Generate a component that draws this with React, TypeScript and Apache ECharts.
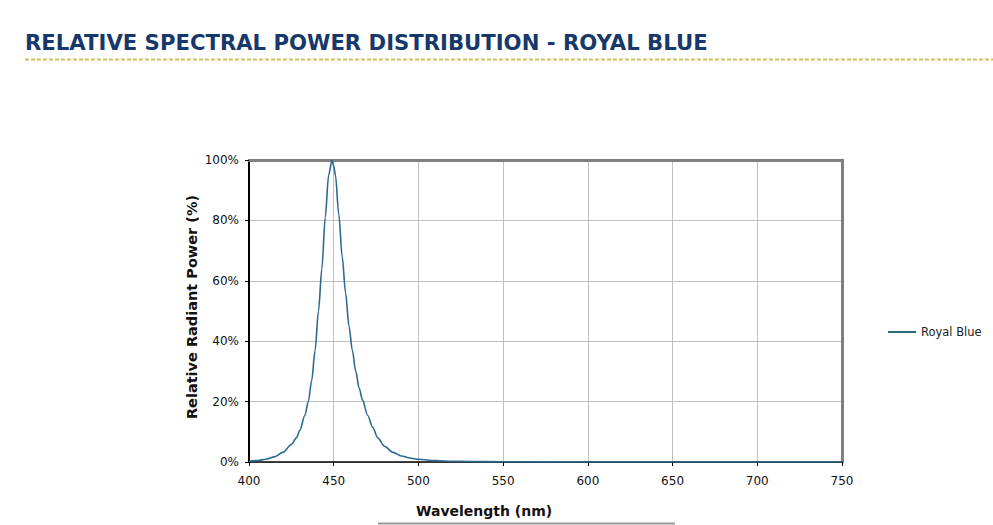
import React, { useEffect, useRef } from "react";
import * as echarts from "echarts";

const titleText = "RELATIVE SPECTRAL POWER DISTRIBUTION - ROYAL BLUE";
const xAxisTitle = "Wavelength (nm)";
const yAxisTitle = "Relative Radiant Power (%)";
const seriesName = "Royal Blue";

const wavelengths = [
  400, 405, 410, 415, 420, 425, 428, 430, 433, 435, 437, 439, 441, 443, 445, 447, 449, 450,
  451, 453, 455, 457, 459, 461, 463, 465, 467, 470, 473, 476, 480, 485, 490, 495, 500, 510,
  520, 530, 550, 600, 650, 700, 750,
];
const power = [
  0.3, 0.5, 0.9, 1.7, 3.2, 5.8, 8, 10.5, 15.5, 20, 27, 37, 50, 64, 81, 95, 100, 98,
  95, 82, 68, 56, 45, 37, 30, 24.5, 20.5, 15.5, 11.5, 8, 5.2, 3.2, 2, 1.3, 0.9, 0.45,
  0.25, 0.15, 0.07, 0.02, 0.01, 0, 0,
];
const xTicks = [400, 450, 500, 550, 600, 650, 700, 750];
const yTicks = [0, 20, 40, 60, 80, 100];

export default function App() {
  const ref = useRef<HTMLDivElement>(null);
  useEffect(() => {
    if (!ref.current) return;
    const chart = echarts.init(ref.current, undefined, { renderer: "svg" });
    const data = wavelengths.map((w, i) => [w, power[i]]);
    const labelFont = "'DejaVu Sans', Verdana, sans-serif";
    chart.setOption({
      animation: false,
      backgroundColor: "#ffffff",
      grid: { left: 249, right: 151, top: 160, bottom: 63, containLabel: false },
      legend: {
        left: 883,
        top: 321,
        itemWidth: 28,
        itemHeight: 2,
        icon: "rect",
        data: [seriesName],
        textStyle: { fontFamily: labelFont, fontSize: 11.5, color: "#222" },
      },
      xAxis: [
        {
          type: "value",
          min: xTicks[0],
          max: xTicks[xTicks.length - 1],
          interval: 50,
          axisLine: { show: true, onZero: false, lineStyle: { color: "#000", width: 1.5 } },
          axisTick: { show: true, length: 4, lineStyle: { color: "#000" } },
          axisLabel: { margin: 13, fontFamily: labelFont, fontSize: 12, color: "#111" },
          splitLine: { show: true, lineStyle: { color: "#c0c0c0", width: 1 } },
        },
        {
          type: "value",
          position: "top",
          min: xTicks[0],
          max: xTicks[xTicks.length - 1],
          interval: 50,
          axisLine: { show: true, onZero: false, lineStyle: { color: "#808080", width: 3 } },
          axisTick: { show: false },
          axisLabel: { show: false },
          splitLine: { show: false },
        },
      ],
      yAxis: [
        {
          type: "value",
          min: yTicks[0],
          max: yTicks[yTicks.length - 1],
          interval: 20,
          axisLine: { show: true, onZero: false, lineStyle: { color: "#000", width: 2 } },
          axisTick: { show: true, length: 4, lineStyle: { color: "#000" } },
          axisLabel: {
            margin: 10,
            formatter: "{value}%",
            fontFamily: labelFont,
            fontSize: 12,
            color: "#111",
          },
          splitLine: { show: true, lineStyle: { color: "#c0c0c0", width: 1 } },
        },
        {
          type: "value",
          position: "right",
          min: yTicks[0],
          max: yTicks[yTicks.length - 1],
          interval: 20,
          axisLine: { show: true, onZero: false, lineStyle: { color: "#808080", width: 3 } },
          axisTick: { show: false },
          axisLabel: { show: false },
          splitLine: { show: false },
        },
      ],
      series: [
        {
          name: seriesName,
          type: "line",
          xAxisIndex: 0,
          yAxisIndex: 0,
          data,
          smooth: 0.3,
          smoothMonotone: "x",
          symbol: "none",
          lineStyle: { color: "#2c6a92", width: 1.6 },
          itemStyle: { color: "#2c6a78" },
          z: 5,
        },
      ],
      graphic: [
        {
          type: "text",
          left: 25,
          top: 32,
          style: {
            text: titleText,
            fontFamily: "'DejaVu Sans', sans-serif",
            fontWeight: "bold",
            fontSize: 21.2,
            fill: "#16386a",
          },
        },
        {
          type: "line",
          shape: { x1: 25, y1: 59.5, x2: 993, y2: 59.5 },
          style: { stroke: "#d6bd5c", lineWidth: 2, lineDash: [4, 2] },
        },
        {
          type: "text",
          left: 416,
          top: 504,
          style: {
            text: xAxisTitle,
            fontFamily: labelFont,
            fontWeight: "bold",
            fontSize: 14,
            fill: "#111",
          },
        },
        {
          type: "text",
          x: 192,
          y: 307,
          rotation: Math.PI / 2,
          style: {
            text: yAxisTitle,
            fontFamily: labelFont,
            fontWeight: "bold",
            fontSize: 14.5,
            fill: "#111",
            align: "center",
            verticalAlign: "middle",
          },
        },
        {
          type: "line",
          shape: { x1: 378, y1: 523.5, x2: 675, y2: 523.5 },
          style: { stroke: "#9a9a9a", lineWidth: 2 },
        },
      ],
    });
    return () => chart.dispose();
  }, []);
  return (
    <div
      ref={ref}
      style={{ position: "absolute", left: 0, top: 0, width: 993, height: 525 }}
    />
  );
}
